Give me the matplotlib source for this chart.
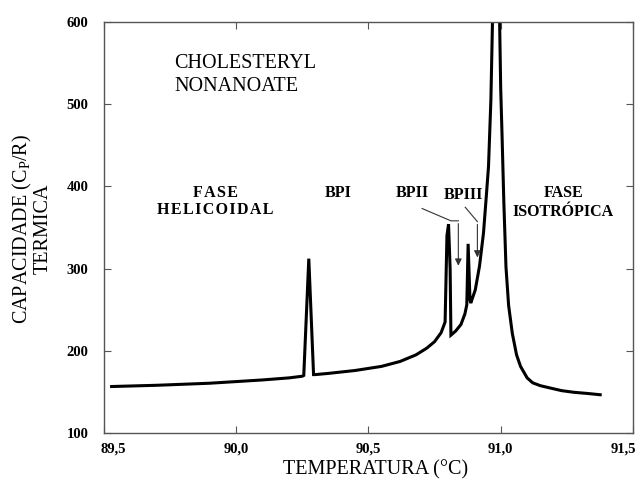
import matplotlib
matplotlib.use("Agg")
import matplotlib.pyplot as plt
import matplotlib.transforms as mtransforms

plt.rcParams['font.family'] = ['Liberation Serif', 'DejaVu Serif']
plt.rcParams['mathtext.default'] = 'regular'

# temperatura (C) e capacidade termica (Cp/R)
temp = [89.53, 89.70, 89.90, 90.00, 90.10, 90.20, 90.25,
        90.256, 90.275, 90.293, 90.30,
        90.35, 90.45, 90.55, 90.62, 90.68, 90.72, 90.75, 90.775, 90.790,
        90.797, 90.803, 90.809, 90.812,
        90.83, 90.85, 90.865, 90.872,
        90.877, 90.884, 90.887,
        90.904, 90.92, 90.935, 90.945, 90.954, 90.963, 90.969,
        90.975, 90.990, 90.996,
        91.000, 91.005, 91.012, 91.020, 91.030, 91.044, 91.060, 91.075,
        91.100, 91.121, 91.150, 91.183, 91.230, 91.276, 91.330, 91.376]
cap = [156.5, 158, 160.5, 162.5, 164.5, 167, 169,
       170, 312, 171, 171,
       172.5, 176, 181, 187, 195, 203, 211, 222, 235,
       340, 354, 300, 219,
       224, 232, 245, 256,
       330, 262, 258,
       274, 303, 343, 385, 424, 505, 600,
       640, 640, 600,
       520, 464, 380, 302, 255, 221, 195, 181,
       167, 161, 157.5, 155, 151.5, 149.5, 148, 146.5]

xticks = [89.5, 90.0, 90.5, 91.0, 91.5]
xtick_labels = ['89,5', '90,0', '90,5', '91,0', '91,5']
yticks = [100, 200, 300, 400, 500, 600]

fig = plt.figure(figsize=(6.42, 4.82), dpi=100)
ax = fig.add_axes([0.1615, 0.1017, 0.8245, 0.853])

ax.plot(temp, cap, color='black', lw=2.2, solid_joinstyle='miter')

ax.set_xlim(89.5, 91.5)
ax.set_ylim(100, 600)
ax.set_xticks(xticks)
ax.set_xticklabels(xtick_labels)
ax.set_yticks(yticks)
for s in ax.spines.values():
    s.set_color('#555555')
    s.set_linewidth(1.0)
ax.tick_params(direction='in', length=5, width=0.8, color='#555555',
               top=True, right=True, labelsize=10.5, pad=7)
ax.tick_params(axis='y', pad=11)
for lab in ax.get_xticklabels() + ax.get_yticklabels():
    lab.set_fontweight('bold')

# rotulos das pontas deslocados para dentro
labs = ax.get_xticklabels()
dx = 7 / 72
labs[0].set_transform(labs[0].get_transform() + mtransforms.ScaledTranslation(dx, 0, fig.dpi_scale_trans))
labs[-1].set_transform(labs[-1].get_transform() + mtransforms.ScaledTranslation(-dx, 0, fig.dpi_scale_trans))

fig.text(376 / 642, 1 - 470 / 482, 'TEMPERATURA (°C)', fontsize=14.5, ha='center', va='center')
fig.text(32 / 642, 1 - 229 / 482, 'CAPACIDADE (C$_P$/R)\nTERMICA', fontsize=14.5,
         rotation=90, ha='center', va='center', multialignment='center', linespacing=0.95)

ax.text(89.768, 549, 'CHOLESTERYL', fontsize=14.5, va='center', ha='left')
ax.text(89.768, 521, 'NONANOATE', fontsize=14.5, va='center', ha='left')

hs = '\u200a'
bold = dict(fontsize=11.5, fontweight='bold', ha='center', va='center')
ax.text(89.922, 391.5, hs.join('FASE'), **bold)
ax.text(89.922, 371, hs.join('HELICOIDAL'), **bold)
ax.text(90.386, 391.5, 'BPI', **bold)
ax.text(90.665, 391.5, 'BPII', **bold)
ax.text(90.858, 389.5, 'BPIII', **bold)
ax.text(91.237, 391.5, 'FASE', **bold)
ax.text(91.237, 369, 'ISOTRÓPICA', **bold)

# setas BPII e BPIII
ax.plot([90.703, 90.812, 90.840], [373, 358, 358], color='#333333', lw=0.8)
ax.annotate('', xy=(90.840, 300), xytext=(90.840, 358),
            arrowprops=dict(arrowstyle='-|>', color='#333333', lw=0.8, mutation_scale=10))
ax.plot([90.866, 90.912], [374.5, 357], color='#333333', lw=0.8)
ax.annotate('', xy=(90.912, 310), xytext=(90.912, 357),
            arrowprops=dict(arrowstyle='-|>', color='#333333', lw=0.8, mutation_scale=10))

fig.savefig('out.png', dpi=100)
